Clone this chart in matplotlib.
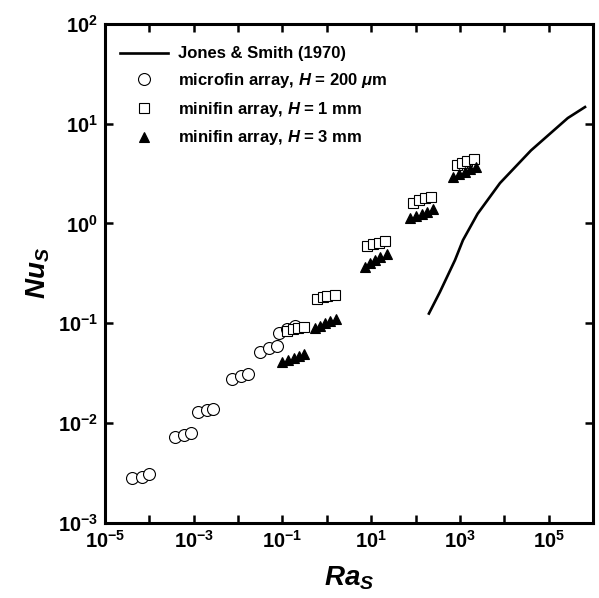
import numpy as np
import matplotlib
matplotlib.use("Agg")
from matplotlib import pyplot as plt
from matplotlib.ticker import FixedLocator, NullLocator

plt.rcParams['font.family'] = ['Liberation Sans', 'DejaVu Sans']
plt.rcParams['font.weight'] = 'bold'
plt.rcParams['mathtext.fontset'] = 'custom'
plt.rcParams['mathtext.rm'] = 'Liberation Sans:bold'
plt.rcParams['mathtext.bf'] = 'Liberation Sans:bold'
plt.rcParams['mathtext.it'] = 'Liberation Sans:italic:bold'
plt.rcParams['mathtext.bfit'] = 'Liberation Sans:italic:bold'

# Jones & Smith (1970) correlation
js_ra = [200, 355, 776, 1170, 2500, 8000, 40000, 270000, 660000]
js_nu = [0.125, 0.206, 0.43, 0.68, 1.25, 2.54, 5.4, 11.4, 14.7]

# microfin array, H = 200 um
micro_ra = [4.1e-5, 6.8e-5, 1.0e-4,
            3.8e-4, 6.0e-4, 8.7e-4,
            1.26e-3, 2.0e-3, 2.7e-3,
            7.3e-3, 1.17e-2, 1.66e-2,
            0.031, 0.050, 0.076,
            0.083, 0.126, 0.19]
micro_nu = [0.0028, 0.0029, 0.0031,
            0.0072, 0.0076, 0.0079,
            0.0129, 0.0135, 0.0138,
            0.0275, 0.0296, 0.031,
            0.052, 0.056, 0.059,
            0.080, 0.087, 0.093]

# minifin array, H = 1 mm
mini1_ra = [0.126, 0.174, 0.224, 0.31,
            0.60, 0.81, 1.0, 1.5,
            8.1, 11, 15, 21,
            88, 120, 163, 225,
            860, 1120, 1450, 2100]
mini1_nu = [0.083, 0.087, 0.089, 0.091,
            0.175, 0.183, 0.187, 0.192,
            0.59, 0.62, 0.64, 0.67,
            1.60, 1.72, 1.80, 1.84,
            3.85, 4.04, 4.23, 4.43]

# minifin array, H = 3 mm
mini3_ra = [0.098, 0.135, 0.18, 0.235, 0.31,
            0.54, 0.71, 0.91, 1.17, 1.6,
            7.2, 9.4, 12.3, 15.8, 23,
            75, 102, 141, 182, 245,
            700, 955, 1320, 1700, 2340]
mini3_nu = [0.041, 0.043, 0.045, 0.047, 0.049,
            0.089, 0.094, 0.100, 0.105, 0.110,
            0.366, 0.40, 0.43, 0.46, 0.49,
            1.13, 1.19, 1.24, 1.30, 1.40,
            2.92, 3.13, 3.28, 3.52, 3.68]

x_ticks = [10.0**k for k in range(-5, 7)]
x_labels = ['$\\mathbf{10^{%d}}$' % k if k % 2 else '' for k in range(-5, 7)]
y_ticks = [10.0**k for k in range(-3, 3)]
y_labels = ['$\\mathbf{10^{%d}}$' % k for k in range(-3, 3)]

fig = plt.figure(figsize=(5.99, 5.98), dpi=100)
ax = fig.add_axes([0.1753, 0.1259, 0.8147, 0.834])

ax.plot(js_ra, js_nu, color='black', lw=1.9, label='Jones & Smith (1970)')
ax.plot(micro_ra, micro_nu, 'o', ms=8.6, mfc='white', mec='black', mew=0.8,
        label='microfin array, $\\mathbfit{H}$ = 200 $\\mathbfit{\u03bc}$m')
ax.plot(mini1_ra, mini1_nu, 's', ms=6.5, mfc='white', mec='black', mew=0.8,
        label='minifin array, $\\mathbfit{H}$ = 1 mm')
ax.plot(mini3_ra, mini3_nu, '^', ms=7.5, mfc='black', mec='black', mew=0.8,
        label='minifin array, $\\mathbfit{H}$ = 3 mm')

ax.set_xscale('log')
ax.set_yscale('log')
ax.set_xlim(1e-5, 1e6)
ax.set_ylim(1e-3, 1e2)
ax.xaxis.set_major_locator(FixedLocator(x_ticks))
ax.yaxis.set_major_locator(FixedLocator(y_ticks))
ax.xaxis.set_minor_locator(NullLocator())
ax.yaxis.set_minor_locator(NullLocator())
ax.set_xticklabels(x_labels)
ax.set_yticklabels(y_labels)
ax.tick_params(which='major', direction='in', length=6, width=1.8,
               top=True, right=True, labelsize=14.5, pad=5)
for sp in ax.spines.values():
    sp.set_linewidth(2.2)

ax.set_xlabel('$\\mathbfit{Ra}_\\mathbfit{S}$', fontsize=20, labelpad=9)
ax.set_ylabel('$\\mathbfit{Nu}_\\mathbfit{S}$', fontsize=20, labelpad=4)

ax.legend(loc='upper left', bbox_to_anchor=(0.0, 0.985), frameon=False,
          fontsize=12, handlelength=2.9, handletextpad=0.55, labelspacing=0.58,
          borderpad=0.4)

fig.savefig('out.png', dpi=100)
